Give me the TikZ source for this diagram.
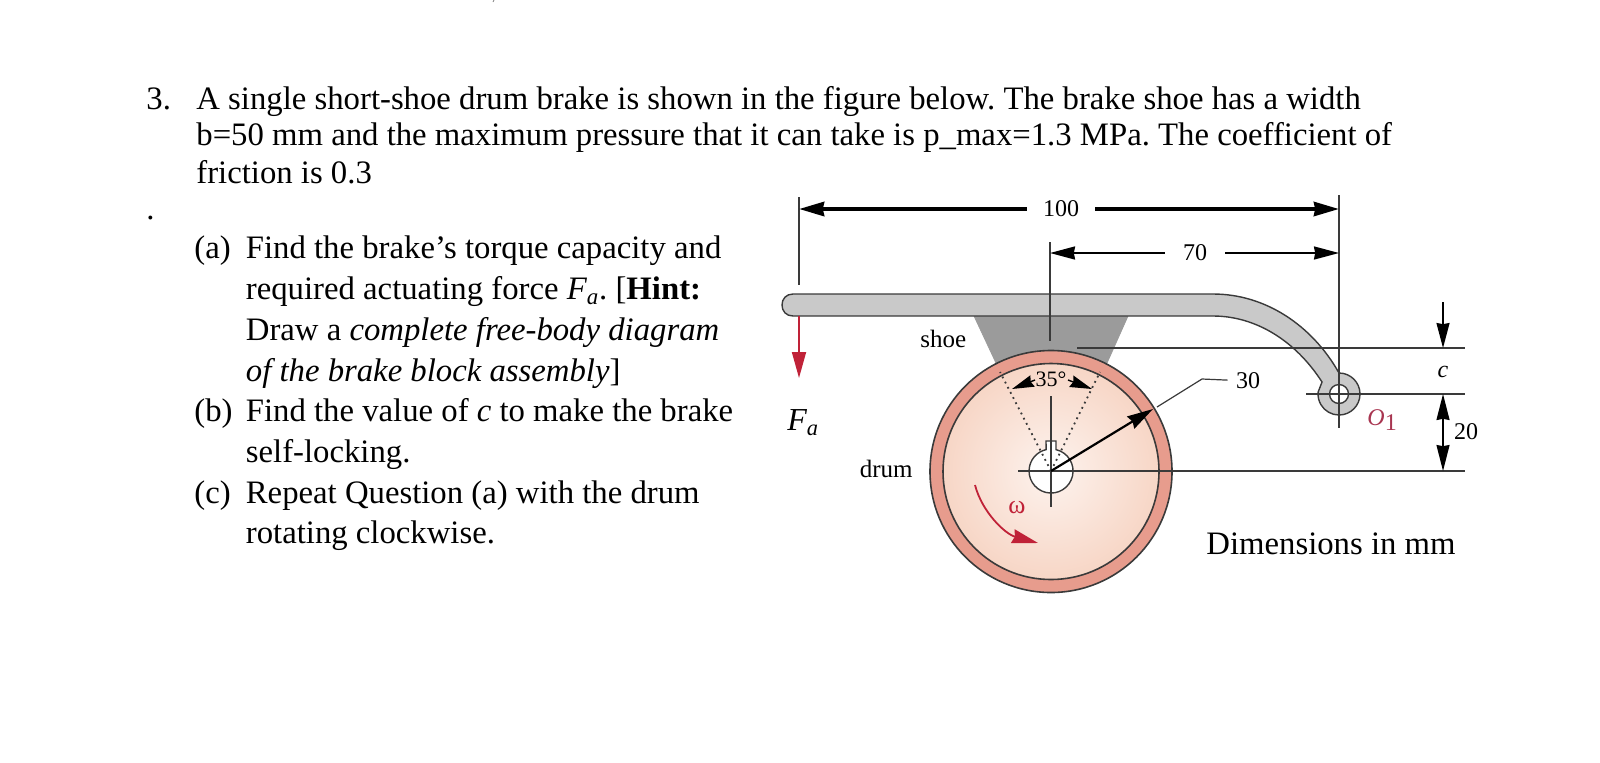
\documentclass[tikz,border=0pt]{standalone}
\usepackage{fontspec}
\setmainfont{Liberation Serif}
\usetikzlibrary{arrows.meta}

\definecolor{ringred}{HTML}{E79C8D}
\definecolor{drumedge}{HTML}{F7D6C6}
\definecolor{drummid}{HTML}{FDF3EE}
\definecolor{leverg}{HTML}{C9C9C9}
\definecolor{shoeg}{HTML}{9B9B9B}
\definecolor{linedark}{HTML}{3A3A3A}
\definecolor{arrowred}{HTML}{C02238}
\definecolor{labelred}{HTML}{A83550}

\tikzset{
  bigtext/.style={anchor=base west,inner sep=0pt,font=\fontsize{16.37}{20}\selectfont},
  figlabel/.style={font=\fontsize{12}{14}\selectfont},
  extline/.style={draw=linedark,line width=0.6pt},
  bigdim/.style={line width=2pt,-{Stealth[length=12.5pt,width=7pt,inset=0.6pt]}},
  middim/.style={line width=1pt,-{Stealth[length=12.5pt,width=6.5pt,inset=0.6pt]}},
  smalldim/.style={line width=0.8pt,{Stealth[length=13pt,width=6.5pt,inset=0.6pt]}-{Stealth[length=13pt,width=6.5pt,inset=0.6pt]}},
  dottedline/.style={dotted,line width=0.9pt,draw=linedark},
}

\begin{document}
\frenchspacing
\begin{tikzpicture}[x=0.5pt,y=-0.5pt]
\useasboundingbox (0,0) rectangle (1600,762);

% text of the question
\draw[draw=gray,line width=0.4pt] (494,0) -- (493,2);
\node[bigtext] (num) at (146,109) {3.};
\node[bigtext] (qa) at (196,109) {A single short-shoe drum brake is shown in the figure below. The brake shoe has a width};
\node[bigtext] (qb) at (196,145.5) {b=50 mm and the maximum pressure that it can take is p\_max=1.3 MPa. The coefficient of};
\node[bigtext] (qc) at (196,183.5) {friction is 0.3};
\node[bigtext] (stop) at (146,219) {.};

\node[bigtext] (pa) at (194,258.5) {(a)};
\node[bigtext] (la) at (245.5,258.5) {Find the brake’s torque capacity and};
\node[bigtext] (lb) at (245.5,299.5) {required actuating force \textit{F\textsubscript{a}}. [\textbf{Hint:}};
\node[bigtext] (lc) at (245.5,340) {Draw a \textit{complete free-body diagram}};
\node[bigtext] (ld) at (245.5,381) {\textit{of the brake block assembly}]};
\node[bigtext] (pb) at (194,421) {(b)};
\node[bigtext] (le) at (245.5,421) {Find the value of \textit{c} to make the brake};
\node[bigtext] (lf) at (245.5,462) {self-locking.};
\node[bigtext] (pc) at (194,503) {(c)};
\node[bigtext] (lg) at (245.5,503) {Repeat Question (a) with the drum};
\node[bigtext] (lh) at (245.5,543.5) {rotating clockwise.};

% shoe
\filldraw[fill=shoeg,draw=shoeg] (974,316) -- (1128,316) -- (1107,363) -- (996,363) -- cycle;

% lever with pivot eye
\filldraw[fill=leverg,draw=linedark,line width=0.7pt]
  (793,294) -- (1213,294) .. controls (1265,294) and (1312,325) .. (1339,373)
  arc (270:545:21) -- (1322,382)
  .. controls (1295,340) and (1255,316) .. (1213,316) -- (793,316)
  .. controls (786,316) and (782,311) .. (782,305)
  .. controls (782,299) and (786,294) .. (793,294) -- cycle;
\filldraw[fill=white,draw=linedark,line width=0.7pt] (1339,394) circle (9.5);

% drum
\filldraw[fill=ringred,draw=linedark,line width=0.8pt] (1051,471.5) circle (121);
\shade[inner color=drummid,outer color=drumedge] (1051,471.5) circle (108);
\draw[draw=linedark,line width=0.8pt] (1051,471.5) circle (108);

% hub with key slot
\coordinate (centre) at (1051,471);
\filldraw[fill=white,draw=linedark,line width=0.7pt]
  (1056,441) -- (1056,449.6) arc (283:617:22) -- (1046,441) -- cycle;

% sector of the shoe
\coordinate (shoeL) at (1000,372);
\coordinate (shoeR) at (1100,372);
\draw[dottedline] (centre) -- (shoeL);
\draw[dottedline] (centre) -- (shoeR);

% centre lines
\coordinate (axisTop) at (1051,396);
\coordinate (axisBot) at (1051,507);
\coordinate (axisLeft) at (1018,471);
\coordinate (axisRight) at (1465,471);
\draw[extline] (axisTop) -- (axisBot);
\draw[extline] (axisLeft) -- (axisRight);

\coordinate (shoeLineL) at (1077,348);
\coordinate (shoeLineR) at (1465,348);
\draw[extline] (shoeLineL) -- (shoeLineR);

\coordinate (pivotL) at (1306,394);
\coordinate (pivotR) at (1465,394);
\draw[extline] (pivotL) -- (pivotR);

% extension lines
\coordinate (extLa) at (799,197);
\coordinate (extLb) at (799,285);
\coordinate (extMa) at (1050,242);
\coordinate (extMb) at (1050,341);
\coordinate (extRa) at (1339,195);
\coordinate (extRb) at (1339,428);
\draw[extline] (extLa) -- (extLb);
\draw[extline] (extMa) -- (extMb);
\draw[extline] (extRa) -- (extRb);

% dimensions
\node[figlabel,inner sep=8pt] (dimA) at (1061,209) {100};
\coordinate (dimAl) at (799,209);
\coordinate (dimAr) at (1339,209);
\draw[bigdim] (dimA) -- (dimAl);
\draw[bigdim] (dimA) -- (dimAr);

\node[figlabel,inner sep=9pt] (dimB) at (1195,253) {70};
\coordinate (dimBl) at (1050,253);
\coordinate (dimBr) at (1339,253);
\draw[middim] (dimB) -- (dimBl);
\draw[middim] (dimB) -- (dimBr);

\coordinate (cTop) at (1443,302);
\coordinate (cTip) at (1443,348);
\draw[middim,line width=0.8pt] (cTop) -- (cTip);
\node[figlabel,inner sep=0pt] (dimC) at (1443,372) {\textit{c}};
\coordinate (twentyTop) at (1443,394);
\coordinate (twentyBot) at (1443,471);
\draw[smalldim] (twentyTop) -- (twentyBot);
\node[figlabel,inner sep=0pt] (dimD) at (1466,432) {20};

\node[figlabel,inner sep=4pt] (dimR) at (1248,381) {30};
\coordinate (rimR) at (1157,407);
\coordinate (elbowR) at (1202,379);
\draw[extline] (rimR) -- (elbowR) -- (dimR);
\coordinate (radTip) at (1153,409);
\draw[line width=1.1pt,-{Stealth[length=13pt,width=7pt,inset=1pt]}] (centre) -- (radTip);

\node[figlabel,inner sep=0pt,font=\fontsize{11}{13}\selectfont] (angle) at (1051,379) {35°};
\coordinate (angL) at (1012,389);
\coordinate (angR) at (1092,389);
\coordinate (angLs) at (1035,380);
\coordinate (angRs) at (1068,380);
\draw[line width=0.7pt,-{Stealth[length=11pt,width=6pt,inset=1pt]}] (angLs) -- (angL);
\draw[line width=0.7pt,-{Stealth[length=11pt,width=6pt,inset=1pt]}] (angRs) -- (angR);

% force and rotation
\coordinate (forceA) at (799,316);
\coordinate (forceB) at (799,378);
\draw[arrowred,line width=0.9pt,-{Stealth[length=13pt,width=7pt,inset=0pt]}] (forceA) -- (forceB);
\coordinate (omegaA) at (975,485);
\coordinate (omegaB) at (1038,543);
\draw[arrowred,line width=0.9pt,-{Stealth[length=13pt,width=7pt,inset=1pt]}]
  (omegaA) .. controls (982,512) and (1005,534) .. (omegaB);

% labels
\node[anchor=base west,inner sep=0pt,font=\fontsize{16}{18}\selectfont] (force) at (787,430) {\textit{F\textsubscript{a}}};
\node[figlabel,anchor=base west,inner sep=0pt,font=\fontsize{12.5}{14}\selectfont] (shoe) at (920,347) {shoe};
\node[figlabel,anchor=base east,inner sep=0pt,font=\fontsize{12.5}{14}\selectfont] (drum) at (913,477) {drum};
\node[figlabel,inner sep=0pt,text=arrowred,font=\fontsize{13}{15}\selectfont] (omega) at (1017,508) {ω};
\node[figlabel,anchor=base west,inner sep=0pt,text=labelred] (pivot) at (1367,425) {\textit{O}\raisebox{-2.5pt}{1}};
\node[bigtext] (units) at (1206,554) {Dimensions in mm};
\end{tikzpicture}
\end{document}
